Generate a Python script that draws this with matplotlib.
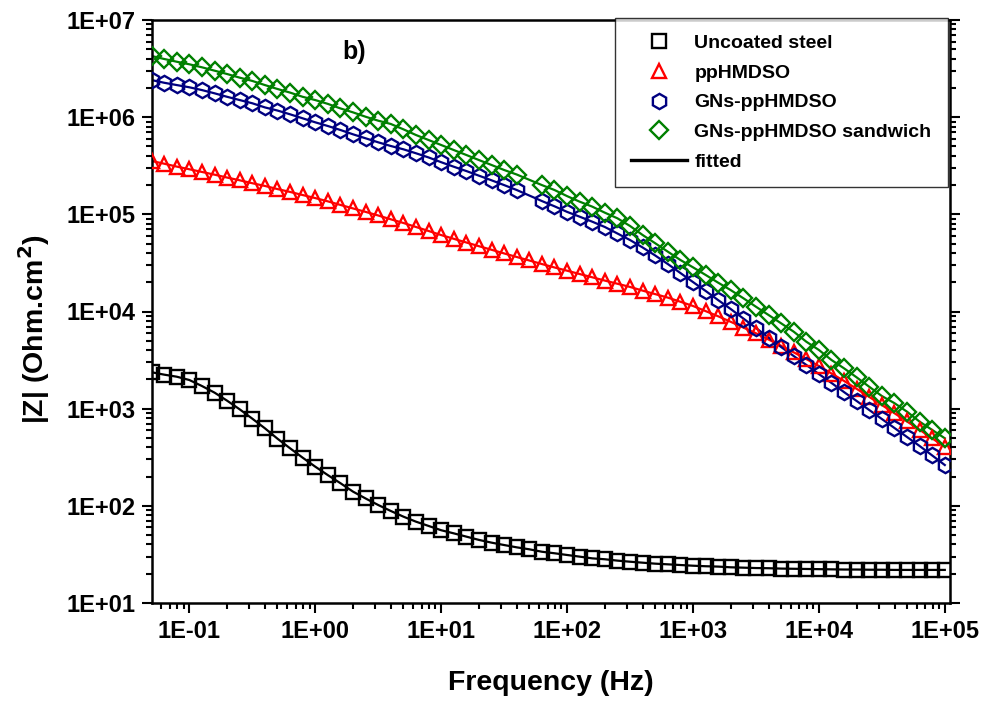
import numpy as np
import matplotlib
matplotlib.use("Agg")
import matplotlib.pyplot as plt
from matplotlib.lines import Line2D
from matplotlib.ticker import LogLocator, FixedLocator, FuncFormatter, NullFormatter

plt.rcParams['font.family'] = ['Liberation Sans', 'DejaVu Sans']
plt.rcParams['font.weight'] = 'bold'

# frequency (Hz), 10 points per decade
freq = [0.0501, 0.0631, 0.0794, 0.1, 0.1259, 0.1585, 0.1995, 0.2512, 0.3162, 0.3981,
        0.5012, 0.631, 0.7943, 1.0, 1.259, 1.585, 1.995, 2.512, 3.162, 3.981,
        5.012, 6.31, 7.943, 10.0, 12.59, 15.85, 19.95, 25.12, 31.62, 39.81,
        50.12, 63.1, 79.43, 100.0, 125.9, 158.5, 199.5, 251.2, 316.2, 398.1,
        501.2, 631.0, 794.3, 1000.0, 1259.0, 1585.0, 1995.0, 2512.0, 3162.0, 3981.0,
        5012.0, 6310.0, 7943.0, 10000.0, 12590.0, 15850.0, 19950.0, 25120.0, 31620.0, 39810.0,
        50120.0, 63100.0, 79430.0, 100000.0]

# |Z| (Ohm.cm2)
z_steel = [2371, 2239, 2133, 1972, 1710, 1462, 1208, 984, 789, 628,
           491, 391, 313, 253, 207, 171, 140, 119, 102, 88.5,
           77.4, 68.7, 62.1, 56.1, 52.1, 48.2, 44.6, 41.8, 39.5, 37.4,
           35.7, 33.7, 32.5, 31.2, 30.0, 28.8, 28.2, 27.3, 26.6, 26.0,
           25.4, 25.0, 24.6, 24.2, 23.9, 23.7, 23.3, 23.1, 22.9, 22.8,
           22.6, 22.5, 22.4, 22.3, 22.2, 22.1, 22.1, 22.0, 22.0, 21.9,
           21.9, 21.9, 21.9, 21.9]

z_pp = [3.54e5, 3.32e5, 3.10e5, 2.91e5, 2.73e5, 2.56e5, 2.39e5, 2.24e5, 2.09e5, 1.96e5,
        1.82e5, 1.70e5, 1.58e5, 1.47e5, 1.36e5, 1.25e5, 1.15e5, 1.06e5, 9.73e4, 8.89e4,
        8.15e4, 7.41e4, 6.74e4, 6.12e4, 5.60e4, 5.13e4, 4.70e4, 4.32e4, 3.96e4, 3.64e4,
        3.35e4, 3.08e4, 2.84e4, 2.63e4, 2.43e4, 2.25e4, 2.08e4, 1.93e4, 1.79e4, 1.64e4,
        1.51e4, 1.39e4, 1.26e4, 1.14e4, 1.01e4, 8.93e3, 7.83e3, 6.84e3, 5.97e3, 5.15e3,
        4.44e3, 3.80e3, 3.24e3, 2.75e3, 2.30e3, 1.93e3, 1.60e3, 1.32e3, 1.09e3, 898,
        738, 607, 495, 404]

z_gns = [2.41e6, 2.26e6, 2.14e6, 2.03e6, 1.90e6, 1.76e6, 1.62e6, 1.50e6, 1.39e6, 1.26e6,
         1.17e6, 1.07e6, 9.73e5, 8.85e5, 8.11e5, 7.38e5, 6.66e5, 6.06e5, 5.51e5, 5.05e5,
         4.67e5, 4.25e5, 3.85e5, 3.44e5, 3.09e5, 2.79e5, 2.50e5, 2.24e5, 2.00e5, 1.78e5,
         np.nan, 1.37e5, 1.21e5, 1.06e5, 9.46e4, 8.40e4, 7.41e4, 6.35e4, 5.44e4, 4.56e4,
         3.77e4, 3.08e4, 2.49e4, 2.01e4, 1.63e4, 1.31e4, 1.06e4, 8.47e3, 6.77e3, 5.40e3,
         4.31e3, 3.48e3, 2.82e3, 2.27e3, 1.84e3, 1.48e3, 1.20e3, 969, 783, 633,
         511, 413, 330, 263]

z_sandwich = [4.26e6, 3.97e6, 3.72e6, 3.50e6, 3.26e6, 3.01e6, 2.78e6, 2.55e6, 2.36e6, 2.14e6,
              1.95e6, 1.79e6, 1.62e6, 1.50e6, 1.37e6, 1.23e6, 1.12e6, 1.01e6, 9.20e5, 8.51e5,
              7.50e5, 6.55e5, 5.82e5, 5.17e5, 4.59e5, 4.08e5, 3.62e5, 3.22e5, 2.86e5, 2.57e5,
              np.nan, 2.00e5, 1.78e5, 1.54e5, 1.35e5, 1.20e5, 1.04e5, 9.10e4, 7.59e4, 6.13e4,
              5.04e4, 4.13e4, 3.39e4, 2.85e4, 2.38e4, 1.98e4, 1.66e4, 1.37e4, 1.12e4, 9.21e3,
              7.56e3, 6.20e3, 4.89e3, 4.02e3, 3.17e3, 2.60e3, 2.10e3, 1.68e3, 1.35e3, 1.14e3,
              931, 735, 604, 496]

x_ticks = [0.1, 1, 10, 100, 1000, 10000, 100000]
y_ticks = [10, 100, 1000, 10000, 100000, 1000000, 10000000]

labels = ["Uncoated steel", "ppHMDSO", "GNs-ppHMDSO", "GNs-ppHMDSO sandwich"]
colors = ["black", "#ff0000", "#000080", "#008000"]
markers = ["s", "^", "h", "D"]
msizes = [9.5, 10.5, 11, 9.5]

fig = plt.figure(figsize=(9.86, 7.02), dpi=100)
ax = fig.add_axes([152 / 986, 1 - 603 / 702, 798 / 986, 583 / 702])

f = np.array(freq)
for z, lab, c, m, ms in zip([z_steel, z_pp, z_gns, z_sandwich], labels, colors, markers, msizes):
    z = np.array(z, dtype=float)
    ok = ~np.isnan(z)
    # fitted curve
    ax.plot(f[ok], z[ok], color=c, lw=1.6, zorder=2)
    ax.plot(f, z, ls="none", marker=m, ms=ms, mfc="none", mec=c, mew=1.7, zorder=3)

ax.set_xscale("log")
ax.set_yscale("log")
ax.set_xlim(0.0505, 1.1e5)
ax.set_ylim(10, 1e7)

fmt = FuncFormatter(lambda v, p: "1E{:+03d}".format(int(round(np.log10(v)))))
ax.xaxis.set_major_locator(FixedLocator(x_ticks))
ax.yaxis.set_major_locator(FixedLocator(y_ticks))
for axis in (ax.xaxis, ax.yaxis):
    axis.set_minor_locator(LogLocator(base=10, subs=np.arange(2, 10), numticks=20))
    axis.set_major_formatter(fmt)
    axis.set_minor_formatter(NullFormatter())

ax.tick_params(which="both", direction="out", top=False, right=True, width=1.5,
               labelright=False)
ax.tick_params(which="major", length=7, labelsize=17, pad=5)
ax.tick_params(which="minor", length=4)
for lab in ax.get_xticklabels() + ax.get_yticklabels():
    lab.set_fontweight("bold")
for s in ax.spines.values():
    s.set_linewidth(1.8)

ax.set_xlabel("Frequency (Hz)", fontsize=20.5, fontweight="bold")
ax.set_ylabel("|Z| (Ohm.cm$\\mathbf{^2}$)", fontsize=20.5, fontweight="bold")
ax.xaxis.set_label_coords(0.5, -0.115)
ax.yaxis.set_label_coords(-0.125, 0.47)

ax.text(0.253, 0.945, "b)", transform=ax.transAxes, fontsize=18, fontweight="bold",
        ha="center", va="center")

handles = [Line2D([], [], ls="none", marker=m, ms=ms, mfc="none", mec=c, mew=1.7)
           for m, ms, c in zip(markers, msizes, colors)]
handles.append(Line2D([], [], color="black", lw=2.4))
leg = ax.legend(handles, labels + ["fitted"], loc="upper right",
                bbox_to_anchor=(948 / 986, 1 - 18 / 702), bbox_transform=fig.transFigure,
                prop={"size": 14, "weight": "bold"}, frameon=True, fancybox=False,
                borderpad=0.85, labelspacing=0.62, handlelength=2.85, handletextpad=0.4,
                borderaxespad=0)
leg.get_frame().set_edgecolor("black")
leg.get_frame().set_linewidth(1.0)

fig.savefig("out.png", dpi=100)
